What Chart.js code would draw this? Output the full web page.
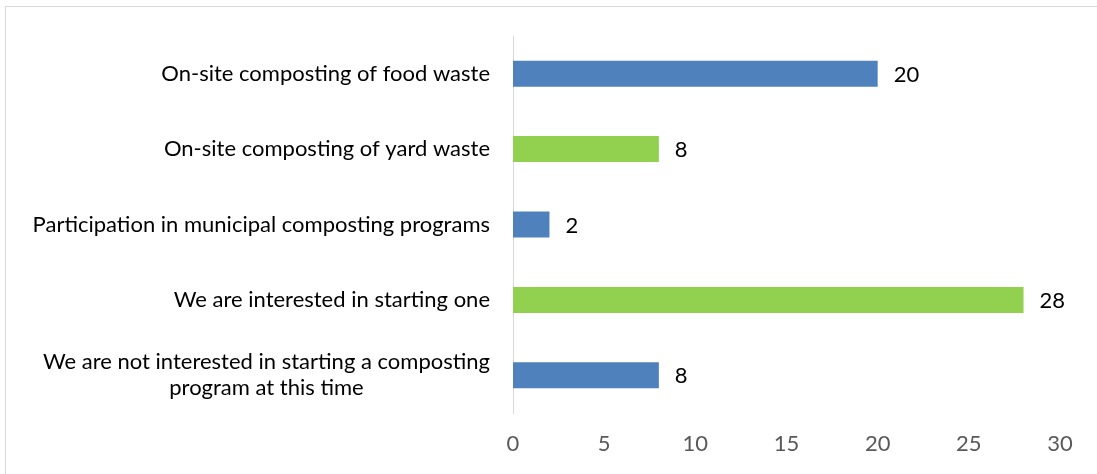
<!DOCTYPE html>
<html>
<head>
<meta charset="utf-8">
<script src="https://cdn.jsdelivr.net/npm/chart.js@4"></script>
<style>
  body { margin: 0; background: #fff; }
  #wrap { position: relative; width: 1097px; height: 474px; overflow: hidden; }
  #frame { position: absolute; left: 5px; top: 6px; width: 1200px; height: 600px; border: 1px solid #D9D9D9; }
  #myChart { position: absolute; left: 0; top: 0; }
</style>
</head>
<body>
<div id="wrap">
  <div id="frame"></div>
  <canvas id="myChart" width="1097" height="474"></canvas>
</div>
<script>
const categories = [
  ['On-site composting of food waste'],
  ['On-site composting of yard waste'],
  ['Participation in municipal composting programs'],
  ['We are interested in starting one'],
  ['We are not interested in starting a composting', 'program at this time']
];
const counts = [20, 8, 2, 28, 8];
const barColors = ['#4F81BD', '#92D050', '#4F81BD', '#92D050', '#4F81BD'];
const xTicks = [0, 5, 10, 15, 20, 25, 30];

const FONT = 'Lato, "Open Sans", sans-serif';
const FONT_SIZE = 22;

// category labels: block right-aligned, lines centred within the block
const categoryLabels = {
  id: 'categoryLabels',
  afterDraw(chart) {
    const { ctx, scales: { y } } = chart;
    ctx.save();
    ctx.font = FONT_SIZE + 'px ' + FONT;
    ctx.fillStyle = '#000000';
    ctx.textAlign = 'center';
    ctx.textBaseline = 'middle';
    const right = y.right - 23;
    const lineH = 26;
    categories.forEach((lines, i) => {
      const yc = y.getPixelForValue(i);
      const w = Math.max(...lines.map(l => ctx.measureText(l).width));
      const cx = right - w / 2;
      lines.forEach((l, j) => {
        ctx.fillText(l, cx, yc + (j - (lines.length - 1) / 2) * lineH);
      });
    });
    ctx.restore();
  }
};

const valueLabels = {
  id: 'valueLabels',
  afterDatasetsDraw(chart) {
    const { ctx } = chart;
    const meta = chart.getDatasetMeta(0);
    ctx.save();
    ctx.font = FONT_SIZE + 'px ' + FONT;
    ctx.fillStyle = '#000000';
    ctx.textAlign = 'left';
    ctx.textBaseline = 'middle';
    meta.data.forEach((bar, i) => {
      ctx.fillText(String(counts[i]), bar.x + 16, bar.y + 1);
    });
    ctx.restore();
  }
};

const ctx = document.getElementById('myChart').getContext('2d');

new Chart(ctx, {
  type: 'bar',
  data: {
    labels: categories.map(c => c.join(' ')),
    datasets: [
      {
        data: counts,
        backgroundColor: barColors,
        borderWidth: 0,
        categoryPercentage: 1,
        barPercentage: 0.345,
      },
    ],
  },
  options: {
    indexAxis: 'y',
    responsive: false,
    animation: false,
    layout: { padding: { left: 0, top: 36, right: 37, bottom: 0 } },
    plugins: {
      legend: { display: false },
      tooltip: { enabled: false },
    },
    scales: {
      x: {
        min: 0,
        max: 30,
        afterBuildTicks: (scale) => {
          scale.ticks = xTicks.map(v => ({ value: v }));
        },
        grid: { display: false, drawTicks: false },
        border: { display: false },
        ticks: {
          color: '#595959',
          font: { family: FONT, size: FONT_SIZE },
          padding: 18,
        },
        afterFit: (scale) => { scale.height = 61; },
      },
      y: {
        grid: { display: false, drawTicks: false },
        border: { display: true, color: '#D9D9D9', width: 1 },
        ticks: { display: false },
        afterFit: (scale) => { scale.width = 513; },
      },
    },
  },
  plugins: [categoryLabels, valueLabels],
});
</script>
</body>
</html>
